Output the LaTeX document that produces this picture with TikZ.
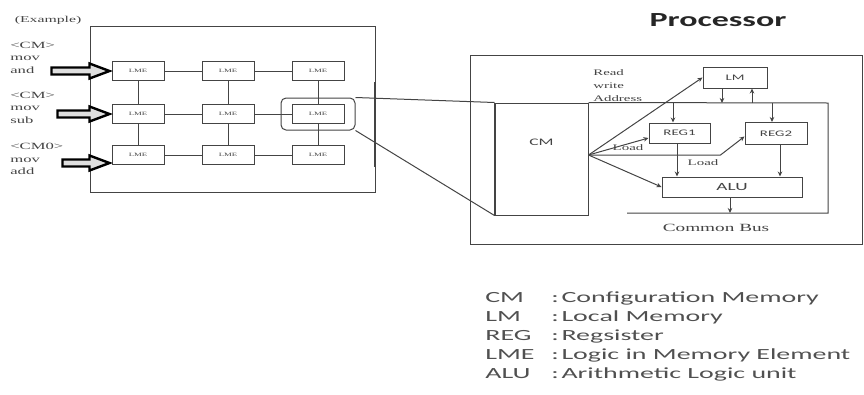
\documentclass[tikz,border=0pt]{standalone}
\usepackage{fontspec}
\usepackage{graphicx}
\setmainfont{Liberation Serif}
\newfontfamily\calibri{Carlito}
\usetikzlibrary{arrows.meta}
\newcommand{\sx}[1]{\scalebox{1.75}[1]{#1}}
\definecolor{ink}{HTML}{444444}
\definecolor{legendgray}{HTML}{505050}
\tikzset{
  wide/.style={xscale=1.75, inner sep=0pt},
  lme/.style={draw=ink, line width=1pt, minimum width=52pt, minimum height=19pt, inner sep=0pt, text=ink, font=\fontsize{5}{6}\selectfont},
  unit/.style={draw=ink, line width=1pt, inner sep=0pt, text=ink, font=\calibri\fontsize{8.5}{10}\selectfont},
  wire/.style={draw=ink, line width=1pt},
  sig/.style={wire, -{Stealth[length=5pt, width=4.5pt]}},
  fatarrow/.style={draw=black, line width=2.4pt, fill=gray!25, line join=miter},
  note/.style={wide, text=ink, align=left, font=\fontsize{9.5}{12.5}\selectfont},
  legend/.style={wide, xscale=1.8/1.75, anchor=base west, text=legendgray, font=\calibri\fontsize{15.5}{19}\selectfont},
}
\begin{document}
\begin{tikzpicture}[x=1pt, y=-1pt]
\useasboundingbox (0,0) rectangle (864,394);

% LME array
\node[note, font=\fontsize{9}{11}\selectfont] (ex) at (48,20) {(Example)};
\draw[wire] (90,26) rectangle (375,192);
\draw[wire, line width=1.6pt] (375,82) -- (375,167);

\foreach \r/\y in {1/71, 2/114, 3/155}
  \foreach \c/\x in {1/138, 2/228, 3/318}
    \node[lme] (l\r\c) at (\x,\y) {\sx{LME}};
\foreach \r in {1,2,3} {
  \draw[wire] (l\r1) -- (l\r2) -- (l\r3);
  \draw[wire] (l1\r) -- (l2\r) -- (l3\r);
}
\node[draw=ink, line width=1pt, rounded corners=5pt, minimum width=74pt, minimum height=32pt] (hl) at (l23) {};

\node[note, anchor=north west] (cmA) at (10,42) {<CM>\\mov\\and};
\node[note, anchor=north west] (cmB) at (10,92) {<CM>\\mov\\sub};
\node[note, anchor=north west] (cmC) at (10,143) {<CM0>\\mov\\add};

\foreach \r/\len/\dy in {1/38/0, 2/32/0, 3/27/-8} {
  \coordinate (tip\r) at ([xshift=-2, yshift=\dy]l\r1.west);
  \draw[fatarrow] (tip\r) -- ++(-20,-7.5) -- ++(0,4) -- ++(-\len,0) -- ++(0,7) -- ++(\len,0) -- ++(0,4) -- cycle;
}

% processor
\node[xscale=1.7, inner sep=0pt, text=black!85, font=\calibri\bfseries\fontsize{20}{24}\selectfont] (proc) at (718,20) {Processor};
\draw[wire] (470,55) rectangle (862,244);

\node[unit, minimum width=93pt, minimum height=112pt] (cm) at (541.5,159) {};
\draw[wire, line width=1.8pt] (cm.north west) -- (cm.south west);
\node[inner sep=0pt, text=ink, font=\calibri\fontsize{10}{12}\selectfont] (cmtext) at ([yshift=17]cm.center) {\sx{CM}};
\node[unit, minimum width=64pt, minimum height=21pt] (lm) at (735,77.5) {\sx{LM}};
\node[unit, minimum width=61pt, minimum height=20pt] (reg1) at (679.5,133) {\sx{REG1}};
\node[unit, minimum width=62pt, minimum height=22pt] (reg2) at (776,133.5) {\sx{REG2}};
\node[unit, minimum width=140pt, minimum height=20pt, font=\calibri\fontsize{11}{13}\selectfont] (alu) at (732,187) {\sx{ALU}};

\coordinate (tr) at (828,103);
\coordinate (br) at (828,213);
\coordinate (bl) at (627,213);
\draw[wire] (cm.north east) -- (tr) -- (br) -- (bl);

\draw[sig] ([xshift=-13]lm.south) -- ([xshift=-13]lm.south |- tr);
\draw[sig] ([xshift=17]lm.south |- tr) -- ([xshift=17]lm.south);
\draw[sig] ([xshift=-6.5]reg1.north |- tr) -- ([xshift=-6.5]reg1.north);
\draw[sig] ([xshift=-4]reg2.north |- tr) -- ([xshift=-4]reg2.north);
\draw[sig] ([xshift=-2.5]reg1.south) -- ([xshift=-2.5]reg1.south |- alu.north);
\draw[sig] ([xshift=4]reg2.south) -- ([xshift=4]reg2.south |- alu.north);
\draw[sig] ([xshift=-2]alu.south) -- ([xshift=-2]alu.south |- br);

\coordinate (fan) at ([yshift=4]cm.east);
\draw[sig] (fan) -- (lm.west);
\draw[sig] (fan) -- ([yshift=-5]reg1.west);
\draw[sig] (fan) -- ++(132,0) -- ([yshift=-3]reg2.west);
\draw[sig] (fan) -- (alu.west);

\draw[wire] (hl.north east) -- (cm.north west);
\draw[wire] (hl.south east) -- (cm.south west);

\node[note, anchor=north west, font=\fontsize{8.5}{13}\selectfont] (rwa) at (593,69) {Read\\write\\Address};
\node[note, font=\fontsize{8.5}{10}\selectfont] (load1) at (628,148) {Load};
\node[note, font=\fontsize{8.5}{10}\selectfont] (load2) at (703,163) {Load};
\node[note, font=\fontsize{11}{13}\selectfont] (bus) at (716,228) {Common Bus};

% legend
\foreach \ab/\txt [count=\i] in {CM/Configuration Memory, LM/Local Memory, REG/Regsister, LME/Logic in Memory Element, ALU/Arithmetic Logic unit} {
  \node[legend] (ab\i) at (485,283+19*\i) {\ab};
  \node[legend] (tx\i) at (551,283+19*\i) {:\kern1.5pt\txt};
}
\end{tikzpicture}
\end{document}
